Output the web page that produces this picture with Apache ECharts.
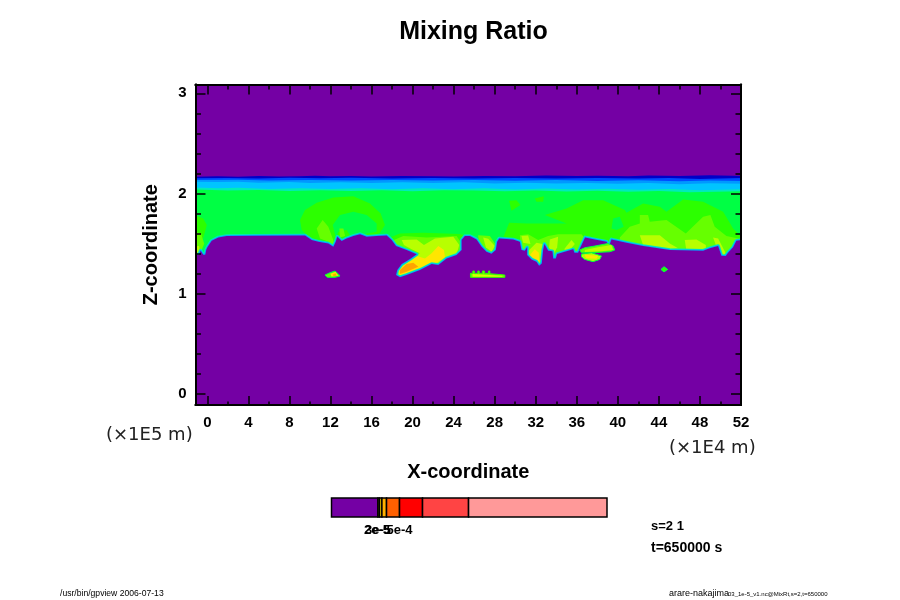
<!DOCTYPE html>
<html><head><meta charset="utf-8">
<style>html,body{margin:0;padding:0;background:#fff}#c{width:900px;height:600px}</style>
<script src="https://cdn.jsdelivr.net/npm/echarts@6/dist/echarts.min.js"></script>
</head><body><div id="c"></div>
<script>
// axes (x in 1E4 m, z in 1E5 m)
const xMin = -1.15, xMax = 52, zMin = -0.11, zMax = 3.088;
const xLabelTicks = [0,4,8,12,16,20,24,28,32,36,40,44,48,52];
const xMinorTicks = [2,6,10,14,18,22,26,30,34,38,42,46,50];
const zLabelTicks = [0,1,2,3];
const zMinorTicks = [0.2,0.4,0.6,0.8,1.2,1.4,1.6,1.8,2.2,2.4,2.6,2.8,3.0];

// colour levels of the mixing ratio field
const purple='#7400A4', dark='#0000C8', blue='#0048FF', azure='#0098FF', sky='#00C4FF', teal='#00ECB8',
      green0='#00FF44', green1='#2CFF00', green2='#66FF00', green3='#B8FF00', yellow='#FFE600', orange='#FFA400';

// horizontal layer edges near z = 2
const edgeDark=[[-1.2,2.168],[1,2.172],[3,2.168],[5,2.176],[7,2.170],[9,2.172],[10.5,2.178],[12,2.172],[14,2.176],[16,2.170],[19,2.176],[22,2.172],[24,2.170],[27,2.176],[30,2.172],[33,2.180],[36,2.174],[38,2.178],[41,2.172],[43,2.180],[46,2.176],[49,2.182],[52.2,2.176]];
const edgeBlue=[[-1.2,2.152],[2,2.156],[5,2.150],[8,2.158],[11,2.152],[14,2.158],[18,2.150],[22,2.154],[26,2.150],[30,2.156],[34,2.150],[38,2.156],[42,2.150],[45,2.154],[48,2.146],[52.2,2.156]];
const edgeAzure=[[-1.2,2.134],[3,2.138],[6,2.130],[10,2.136],[14,2.130],[18,2.136],[22,2.130],[26,2.134],[30,2.128],[34,2.134],[38,2.126],[42,2.132],[46,2.122],[49,2.130],[52.2,2.126]];
const edgeSky=[[-1.2,2.118],[1,2.114],[3,2.118],[5,2.108],[8,2.114],[10,2.106],[13,2.112],[16,2.104],[19,2.112],[22,2.106],[25,2.112],[28,2.100],[31,2.108],[34,2.100],[37,2.106],[40,2.098],[43,2.104],[46,2.092],[49,2.102],[52.2,2.098]];
const edgeTeal=[[-1.2,2.060],[1,2.052],[3,2.058],[6,2.046],[9,2.054],[12,2.046],[15,2.052],[18,2.044],[21,2.052],[24,2.044],[27,2.054],[30,2.040],[33,2.050],[36,2.040],[39,2.048],[42,2.038],[45,2.046],[48,2.034],[52.2,2.044]];
const edgeGreen=[[-1.2,2.040],[2,2.030],[5,2.036],[8,2.026],[11,2.034],[14,2.026],[17,2.032],[20,2.024],[23,2.032],[26,2.030],[29,2.022],[32,2.030],[35,2.020],[38,2.028],[41,2.018],[44,2.026],[47,2.014],[52.2,2.024]];

// bottom edge of the moist layer
const lowerEdge=[[-1.6,1.39],[-0.8,1.39],[-0.65,1.43],[-0.4,1.39],[-0.2,1.39],[-0.1,1.44],[0.01,1.463],[0.43,1.529],[1.08,1.562],[1.89,1.576],[4.81,1.579],[9.52,1.582],[10.17,1.536],[10.82,1.519],[11.79,1.502],[12.28,1.469],[12.51,1.519],[12.67,1.569],[13.09,1.526],[13.58,1.552],[14.23,1.576],[14.88,1.595],[15.53,1.569],[16.5,1.576],[17.48,1.582],[17.96,1.536],[18.39,1.476],[19.42,1.436],[20.4,1.393],[19.75,1.346],[18.94,1.296],[18.51,1.237],[18.39,1.187],[18.77,1.164],[19.42,1.187],[20.72,1.237],[21.86,1.296],[22.51,1.286],[23.32,1.353],[24.29,1.386],[24.78,1.436],[24.78,1.536],[25.1,1.576],[25.59,1.576],[26.23,1.542],[26.72,1.469],[27.2,1.419],[27.69,1.399],[28.11,1.436],[28.24,1.519],[28.44,1.552],[29.8,1.542],[30.45,1.519],[30.61,1.436],[30.94,1.429],[31.16,1.463],[31.16,1.386],[31.59,1.343],[32.07,1.32],[32.33,1.28],[32.59,1.303],[32.72,1.436],[32.85,1.496],[33.21,1.429],[33.63,1.423],[33.7,1.353],[33.96,1.353],[34.09,1.396],[35.65,1.443],[35.77,1.409],[36.13,1.409],[36.36,1.463],[36.81,1.562],[37.76,1.542],[38.89,1.519],[39.15,1.476],[39.38,1.542],[40.84,1.509],[42.46,1.476],[45.06,1.436],[48.31,1.429],[48.96,1.453],[49.77,1.476],[50.09,1.38],[50.51,1.376],[50.74,1.409],[51.23,1.463],[51.55,1.529],[52.5,1.542]];

// interior patches, mass level 1
const domeA=[[9.03,1.735],[9.52,1.835],[10.66,1.908],[12.28,1.961],[14.23,1.974],[15.85,1.901],[16.89,1.801],[17.31,1.685],[16.83,1.609],[15.53,1.552],[12.61,1.469],[10.33,1.519],[9.2,1.635]];
const leftEdgeA=[[-1.2,1.785],[-0.4,1.75],[-0.05,1.685],[-0.35,1.57],[-1.2,1.4]];
const plumeA=[[17.8,1.562],[18.77,1.602],[21.05,1.609],[24.62,1.596],[25.27,1.576],[25.27,1.336],[18.45,1.137],[17.8,1.336]];
const patchA=[[29.41,1.928],[30.13,1.934],[30.51,1.885],[29.64,1.828]];
const patchB=[[31.91,1.951],[32.79,1.974],[32.72,1.918],[32.07,1.918]];
const massA=[[28.83,1.562],[29.41,1.708],[31.1,1.702],[35.0,1.702],[32.89,1.785],[35.0,1.851],[36.62,1.934],[38.57,1.934],[40.68,1.835],[40.84,1.808],[42.46,1.901],[44.09,1.868],[44.74,1.818],[46.36,1.941],[48.31,1.918],[50.26,1.818],[51.23,1.652],[52.2,1.552],[52.2,1.3],[28.83,1.3]];
// holes of the base green inside the patches
const holeA=[[12.22,1.685],[12.93,1.785],[14.23,1.818],[15.53,1.785],[16.5,1.702],[16.5,1.619],[15.2,1.595],[13.9,1.585],[13.58,1.635],[12.77,1.619],[12.54,1.552]];
const holeB=[[39.54,1.752],[40.19,1.768],[40.58,1.669],[39.87,1.635],[39.38,1.652]];
// level 2
const leftEdgeB=[[-1.2,1.62],[-0.6,1.6],[-0.3,1.5],[-0.7,1.4],[-1.2,1.4]];
const streakA=[[10.66,1.652],[11.24,1.735],[11.79,1.669],[12.22,1.552],[12.44,1.476],[11.79,1.519],[10.98,1.552]];
const streakB=[[12.87,1.652],[13.26,1.652],[13.42,1.576],[12.93,1.562]];
const plumeB=[[18.19,1.536],[19.1,1.576],[21.37,1.562],[24.29,1.576],[24.78,1.502],[24.78,1.336],[18.45,1.137],[18.19,1.336]];
const massB=[[40.19,1.562],[41.16,1.669],[42.14,1.702],[42.14,1.785],[42.95,1.785],[43.11,1.718],[44.74,1.735],[46.62,1.602],[48.31,1.768],[49.02,1.785],[49.44,1.669],[50.58,1.576],[52.2,1.542],[52.2,1.336],[40.19,1.336]];
const tongueA=[[26.39,1.585],[27.53,1.576],[28.24,1.469],[28.02,1.386],[26.88,1.386],[26.49,1.486]];
const tongueB=[[30.45,1.585],[31.26,1.595],[32.24,1.536],[33.21,1.576],[34.18,1.595],[36.46,1.595],[36.78,1.552],[36.29,1.403],[33.7,1.336],[32.4,1.253],[30.61,1.403]];
// level 3
const leftEdgeC=[[-1.2,1.47],[-0.8,1.48],[-0.7,1.41],[-1.2,1.38]];
const plumeC=[[18.94,1.536],[20.4,1.542],[21.11,1.486],[22.18,1.552],[23.97,1.569],[24.55,1.486],[24.29,1.396],[23.32,1.343],[22.18,1.287],[20.72,1.227],[19.1,1.17],[18.51,1.187],[18.61,1.253],[19.75,1.363],[20.72,1.403],[19.91,1.443],[19.16,1.486]];
const lobeA=[[42.14,1.585],[44.09,1.585],[45.06,1.502],[45.87,1.453],[44.74,1.443],[42.46,1.486]];
const lobeB=[[46.52,1.536],[47.66,1.542],[48.57,1.486],[48.57,1.419],[46.68,1.429]];
const lobeC=[[49.28,1.562],[49.77,1.552],[50.51,1.403],[50.09,1.369],[49.61,1.469]];
const tongueC=[[26.88,1.562],[27.37,1.549],[28.02,1.476],[27.69,1.419],[27.14,1.463]];
const tongueD=[[31.36,1.436],[32.07,1.509],[32.66,1.496],[32.79,1.386],[32.4,1.286],[31.16,1.353]];
const tongueE=[[33.37,1.542],[34.18,1.569],[34.09,1.463],[33.7,1.386],[33.31,1.463]];
const tongueF=[[34.77,1.443],[35.48,1.536],[35.81,1.496],[35.16,1.419]];
const tongueG=[[30.61,1.576],[31.26,1.582],[31.49,1.496],[30.77,1.509]];
// level 4 and 5
const plumeD=[[22.51,1.476],[23.06,1.436],[23.16,1.363],[22.18,1.303],[21.05,1.263],[19.42,1.194],[18.71,1.187],[18.71,1.253],[19.59,1.32],[20.4,1.376],[21.21,1.353],[21.86,1.403]];
const tongueH=[[31.36,1.376],[31.91,1.443],[32.3,1.41],[32.33,1.32],[31.81,1.32]];
const plumeE=[[18.77,1.237],[19.42,1.296],[20.07,1.31],[20.56,1.27],[19.42,1.22],[18.77,1.197]];
// isolated blobs under the layer
const blobLeft=[[11.47,1.187],[11.96,1.21],[12.44,1.227],[12.77,1.197],[12.93,1.177],[12.44,1.164],[11.7,1.164]];
const blobLeftMid=[[12.0,1.2],[12.5,1.22],[12.75,1.18],[12.1,1.172]];
const blobLeftCore=[[12.2,1.19],[12.5,1.205],[12.6,1.18],[12.3,1.178]];
const fingerOuter=[[36.29,1.436],[36.78,1.459],[37.76,1.476],[39.05,1.502],[39.54,1.476],[39.7,1.436],[39.22,1.419],[37.27,1.409],[36.46,1.409]];
const fingerInner=[[36.78,1.436],[38.08,1.463],[39.38,1.486],[39.54,1.436],[38.4,1.423],[36.78,1.416]];
const blobMid=[[36.46,1.396],[37.43,1.409],[38.4,1.376],[38.24,1.343],[37.59,1.32],[36.78,1.343],[36.46,1.369]];
const blobMidInner=[[36.78,1.39],[38.08,1.38],[37.9,1.35],[36.9,1.355]];
const bar=[[25.64,1.204],[25.87,1.204],[25.87,1.227],[26.03,1.227],[26.03,1.204],[26.36,1.204],[26.36,1.227],[26.49,1.227],[26.49,1.204],[26.81,1.204],[26.81,1.227],[27.01,1.227],[27.01,1.204],[27.4,1.204],[27.4,1.227],[27.53,1.227],[27.53,1.2],[28.99,1.187],[28.99,1.164],[25.64,1.164]];
const barInner=[[25.84,1.197],[28.76,1.18],[28.76,1.17],[25.84,1.17]];
const dot=[[44.2,1.243],[44.5,1.27],[44.85,1.243],[44.5,1.218]];

// colour bar
const barWidths=[46.4,1.6,2.4,4.6,13,23,46,138.4];
const barColors=[purple,'#E8FF00','#FFD800','#FFB000','#FF6000','#FF0000','#FF4444','#FF9999'];
const barTickValues=[45.5,46.5,68];
const barTickLabels=['2e-5','3e-5','5e-4'];

// ---- build
const closeDown=(e)=>e.concat([[xMax+1,1.0],[xMin-1,1.0]]);
const underLayer=lowerEdge.concat([[xMax+1,zMin-0.5],[xMin-1,zMin-0.5]]);
const L=(shape,fill,stroke,lw)=>({shape,fill,stroke,lw});
const layers=[
 L(closeDown(edgeDark),dark),L(closeDown(edgeBlue),blue),L(closeDown(edgeAzure),azure),L(closeDown(edgeSky),sky),L(closeDown(edgeTeal),teal),L(closeDown(edgeGreen),green0),
 ...[domeA,leftEdgeA,plumeA,patchA,patchB,massA].map(s=>L(s,green1)),
 ...[holeA,holeB].map(s=>L(s,green0)),
 ...[leftEdgeB,streakA,streakB,plumeB,massB,tongueA,tongueB].map(s=>L(s,green2)),
 ...[leftEdgeC,plumeC,lobeA,lobeB,lobeC,tongueC,tongueD,tongueE,tongueF,tongueG].map(s=>L(s,green3)),
 ...[plumeD,tongueH].map(s=>L(s,yellow)),
 L(plumeE,orange),
 L(underLayer,purple,teal,3.6),L(underLayer,purple,'#00A8FF',1.8),L(underLayer,purple),
 L(blobLeft,green2,'#00FF44',1),L(blobLeftMid,yellow),L(blobLeftCore,orange),
 L(fingerOuter,green2,'#00FF44',1),L(fingerInner,green3),
 L(blobMid,green3,'#00FF44',1),L(blobMidInner,yellow),
 L(bar,green2,'#30FF00',1),L(barInner,'#D8FF00'),
 L(dot,green1,'#00FF44',1)
];
let acc=0;
const barCells=barWidths.map((w,i)=>{const c=[acc,acc+w,i];acc+=w;return c;});
const font='"Liberation Sans",Arial,sans-serif';
const hideAxis={axisLine:{show:false},axisTick:{show:false},axisLabel:{show:false},splitLine:{show:false}};
const xAx=(pos,vals,len,lab)=>({type:'value',gridIndex:0,min:xMin,max:xMax,position:pos,z:10,
  axisLine:{show:true,onZero:false,lineStyle:{color:'#000',width:2}},
  axisTick:{show:true,inside:true,length:len,customValues:vals,lineStyle:{color:'#000',width:1.5}},
  axisLabel:lab?{show:true,customValues:vals,margin:10,fontFamily:font,fontWeight:'bold',fontSize:15,color:'#000'}:{show:false},
  splitLine:{show:false}});
const zAx=(pos,vals,len,lab)=>({type:'value',gridIndex:0,min:zMin,max:zMax,position:pos,z:10,
  axisLine:{show:true,onZero:false,lineStyle:{color:'#000',width:2}},
  axisTick:{show:true,inside:true,length:len,customValues:vals,lineStyle:{color:'#000',width:1.5}},
  axisLabel:lab?{show:true,customValues:vals,margin:9,fontFamily:font,fontWeight:'bold',fontSize:15,color:'#000'}:{show:false},
  splitLine:{show:false}});
const x0=xAx('bottom',xLabelTicks,9,true);
x0.name='X-coordinate';x0.nameLocation='middle';x0.nameGap=57;x0.nameTextStyle={fontFamily:font,fontWeight:'bold',fontSize:20,color:'#000'};
const z0=zAx('left',zLabelTicks,10,true);
z0.name='Z-coordinate';z0.nameLocation='middle';z0.nameGap=34;z0.nameTextStyle={fontFamily:font,fontWeight:'bold',fontSize:20,color:'#000'};
const txt=(left,top,text,fontSize,weight,family,fill)=>({type:'text',left,top,silent:true,style:{text,fontSize,fontWeight:weight,fontFamily:family||font,fill:fill||'#000'}});

const chart=echarts.init(document.getElementById('c'),null,{renderer:'canvas'});
chart.setOption({
 animation:false,backgroundColor:'#fff',
 title:{text:'Mixing Ratio',left:468.5,top:15,textAlign:'center',textStyle:{fontFamily:font,fontWeight:'bold',fontSize:25,color:'#000'}},
 grid:[{left:195.5,top:84.5,width:545.5,height:320.5,backgroundColor:purple,show:true,borderWidth:0},
       {left:331.5,top:498,width:275.5,height:19,show:false}],
 xAxis:[x0,xAx('bottom',xMinorTicks,3.5,false),xAx('top',xLabelTicks,10,false),xAx('top',xMinorTicks,5,false),
   Object.assign({type:'value',gridIndex:1,min:0,max:acc},hideAxis)],
 yAxis:[z0,zAx('left',zMinorTicks,5.5,false),zAx('right',zLabelTicks,10,false),zAx('right',zMinorTicks,5.5,false),
   Object.assign({type:'value',gridIndex:1,min:0,max:1},hideAxis)],
 series:[
  {type:'custom',xAxisIndex:0,yAxisIndex:0,clip:true,silent:true,z:1,
   data:layers.map((l,i)=>[l.shape[0][0],l.shape[0][1],i]),encode:{x:0,y:1},
   renderItem:(p,api)=>{const l=layers[api.value(2)];
     return {type:'polygon',shape:{points:l.shape.map(q=>api.coord(q))},
       style:{fill:l.fill,stroke:l.stroke||null,lineWidth:l.lw||0,lineJoin:'round'}};}},
  {type:'custom',xAxisIndex:4,yAxisIndex:4,silent:true,z:1,
   data:barCells,encode:{x:[0,1]},
   renderItem:(p,api)=>{const a=api.coord([api.value(0),0]),b=api.coord([api.value(1),1]);
     return {type:'rect',shape:{x:a[0],y:b[1],width:b[0]-a[0],height:a[1]-b[1]},
       style:{fill:barColors[api.value(2)],stroke:'#000',lineWidth:1.5}};}},
  {type:'custom',xAxisIndex:4,yAxisIndex:4,silent:true,z:2,
   data:barTickValues.map((v,i)=>[v,0,i]),encode:{x:0},
   renderItem:(p,api)=>{const a=api.coord([api.value(0),0]);
     return {type:'text',x:a[0],y:a[1]+7,style:{text:barTickLabels[api.value(2)],textAlign:'center',textVerticalAlign:'top',
       fontFamily:font,fontWeight:'bold',fontSize:13,fill:'#000'}};}}
 ],
 graphic:[
  txt(106,426,'(×1E5 m)',18,'normal','"DejaVu Sans"','#222'),
  txt(669,439,'(×1E4 m)',18,'normal','"DejaVu Sans"','#222'),
  txt(651,520,'s=2 1',13,'bold'),
  txt(651,541,'t=650000 s',14,'bold'),
  txt(60,589,'/usr/bin/gpview 2006-07-13',8.6,'normal'),
  txt(669,589,'arare-nakajima',9,'normal'),
  txt(728,591,'03_1e-5_v1.nc@MixRt,s=2,t=650000',6,'normal')
 ]
});
</script></body></html>
